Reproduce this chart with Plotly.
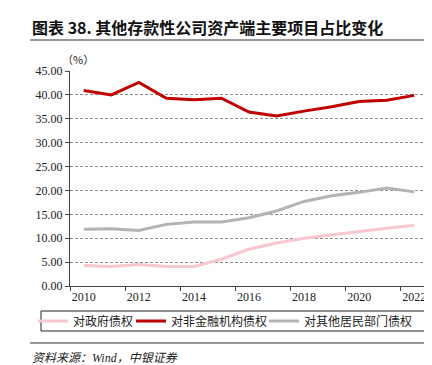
import plotly.graph_objects as go

years = list(range(2010, 2023))
gov = [4.3, 4.1, 4.5, 4.1, 4.1, 5.6, 7.7, 9.0, 10.0, 10.7, 11.5, 12.1, 12.7]
nonfin = [40.9, 40.0, 42.6, 39.3, 39.0, 39.3, 36.4, 35.6, 36.6, 37.5, 38.6, 38.9, 39.9]
resid = [11.9, 12.0, 11.6, 12.9, 13.4, 13.4, 14.3, 15.7, 17.7, 18.9, 19.6, 20.5, 19.7]
names = ["对政府债权", "对非金融机构债权", "对其他居民部门债权"]
colors = ["#F7C6CF", "#C00000", "#B3B3B3"]
yticks = [0, 5, 10, 15, 20, 25, 30, 35, 40, 45]
xlabels = [2010, 2012, 2014, 2016, 2018, 2020, 2022]

W, H = 432, 365
L, R, T, B = 62, 12, 63, 87
pw, ph = W - L - R, H - T - B

def px(x):
    return (x - L) / pw

def py(y):
    return (H - B - y) / ph

SERIF = "Liberation Serif, Noto Sans CJK SC, serif"
LEGX = [25, 123, 256]

fig = go.Figure()
for i, (series, name, col) in enumerate(zip([gov, nonfin, resid], names, colors)):
    fig.add_trace(go.Scatter(x=years, y=series, name=name, mode="lines",
                             line=dict(color=col, width=3),
                             legend="legend" if i == 0 else f"legend{i+1}"))

legend_common = dict(orientation="h", y=py(313), yanchor="middle", xanchor="left",
                     bgcolor="rgba(0,0,0,0)", borderwidth=0,
                     font=dict(size=12, family="Noto Sans CJK SC", color="#222"))

fig.update_layout(
    width=W, height=H,
    margin=dict(l=L, r=R, t=T, b=B),
    paper_bgcolor="white", plot_bgcolor="white",
    font=dict(family=SERIF, size=12, color="#222"),
    showlegend=True,
    legend=dict(x=px(LEGX[0]), **legend_common),
    legend2=dict(x=px(LEGX[1]), **legend_common),
    legend3=dict(x=px(LEGX[2]), **legend_common),
    xaxis=dict(range=[2009.5, 2022.5], tickvals=xlabels, ticktext=[str(v) for v in xlabels],
               ticks="", showgrid=False, showline=True, linecolor="#444", linewidth=1,
               zeroline=False, tickfont=dict(size=12, family=SERIF),
               minor=dict(tickvals=[2009.5, 2011.5, 2013.5, 2015.5, 2017.5, 2019.5, 2021.5],
                          ticks="outside", ticklen=4, tickcolor="#444", showgrid=False)),
    yaxis=dict(range=[0, 45], tickvals=yticks, tickformat=".2f", ticks="outside",
               ticklen=4, tickcolor="#444", showline=True, linecolor="#444", linewidth=1,
               showgrid=True, gridcolor="#8c8c8c", griddash="3px,2px", gridwidth=1,
               zeroline=False, tickfont=dict(size=12, family=SERIF)),
)

fig.add_annotation(text="<b>图表 38. 其他存款性公司资产端主要项目占比变化</b>",
                   xref="paper", yref="paper", x=px(22), y=py(19), xanchor="left", yanchor="middle",
                   showarrow=False, font=dict(size=16, family="Noto Sans CJK SC", color="#111"))
fig.add_annotation(text="（%）", xref="paper", yref="paper", x=px(52), y=py(51),
                   xanchor="left", yanchor="middle", showarrow=False,
                   font=dict(size=11, family="Noto Sans CJK SC", color="#222"))
fig.add_annotation(text="<i>资料来源：Wind，中银证券</i>", xref="paper", yref="paper",
                   x=px(22), y=py(350), xanchor="left", yanchor="middle", showarrow=False,
                   font=dict(size=12, family="Liberation Serif, Noto Sans CJK SC", color="#222"))
fig.add_shape(type="line", xref="paper", yref="paper", x0=px(22), x1=px(420), y0=py(32), y1=py(32),
              line=dict(color="#333", width=1))
fig.add_shape(type="line", xref="paper", yref="paper", x0=px(22), x1=px(420), y0=py(335), y1=py(335),
              line=dict(color="#333", width=1))
fig.add_shape(type="rect", xref="paper", yref="paper", x0=px(33), x1=px(417), y0=py(303), y1=py(323),
              line=dict(color="#222", width=1))

fig.write_html("out.html")
